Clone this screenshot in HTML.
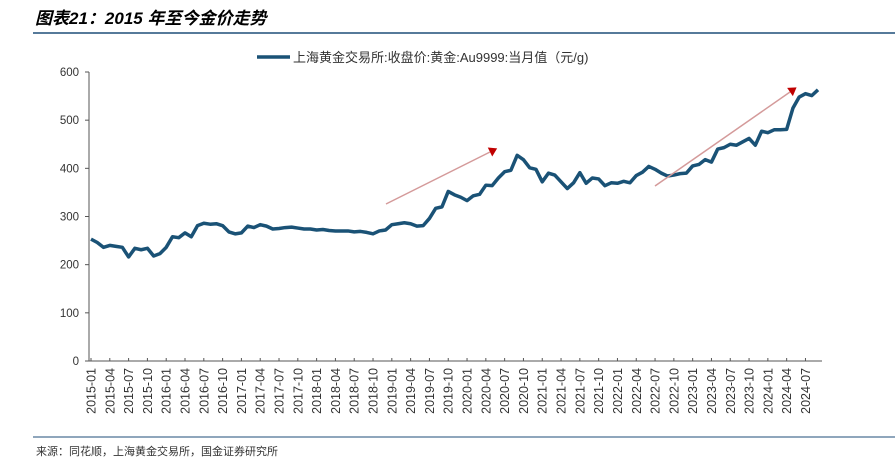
<!DOCTYPE html>
<html><head><meta charset="utf-8"><style>
body{margin:0;width:895px;height:468px;background:#fff;overflow:hidden;font-family:"Liberation Sans","Noto Sans CJK SC",sans-serif}
svg{position:absolute;left:0;top:0}
</style></head><body>
<svg width="895" height="468">
<text x="35" y="24" font-size="17" font-weight="bold" font-style="italic" fill="#000" font-family="Liberation Sans,Noto Sans CJK SC,sans-serif">图表21：2015 年至今金价走势</text>
<line x1="33" y1="33" x2="895" y2="33" stroke="#1f4e79" stroke-width="1.5"/>
<line x1="257" y1="57" x2="290" y2="57" stroke="#1a5276" stroke-width="3.5"/>
<text x="293" y="62" font-size="13" fill="#333">上海黄金交易所:收盘价:黄金:Au9999:当月值（元/g)</text>
<g id="axes"></g>
<g id="plot"></g>
<line x1="33" y1="437" x2="895" y2="437" stroke="#1f4e79" stroke-width="1"/>
<text x="36" y="455" font-size="11" fill="#333">来源：同花顺，上海黄金交易所，国金证券研究所</text>
</svg>
<script>
const values=[253,246,236,240,238,236,216,234,231,234,218,223,
236,258,256,266,258,281,286,284,285,281,268,264,
266,280,277,283,280,274,275,277,278,276,274,274,
272,273,271,270,270,270,268,269,267,264,270,272,
283,285,287,285,280,281,296,317,320,352,345,340,
333,343,346,365,364,380,393,396,427,418,401,398,
372,390,386,372,358,370,391,369,380,378,364,370,
369,373,370,385,392,404,398,390,384,386,389,390,
405,408,418,413,440,443,450,448,455,462,448,477,
474,480,480,481,525,548,555,551,563];
const yTicks=[0,100,200,300,400,500,600];
const startYear=2015;
const NS="http://www.w3.org/2000/svg";
const X0=91,X1=818,Y0=361,Y1=72;
const xs=i=>X0+(X1-X0)*i/(values.length-1);
const ys=v=>Y0-(Y0-Y1)*v/600;
const axes=document.getElementById('axes'),plot=document.getElementById('plot');
function mk(tag,at,parent){const e=document.createElementNS(NS,tag);for(const k in at)e.setAttribute(k,at[k]);parent.appendChild(e);return e;}
let e=mk('line',{x1:89,y1:Y1,x2:89,y2:Y0,stroke:'#555'},axes);


e=mk('line',{x1:89,y1:Y0,x2:822,y2:Y0,stroke:'#555'},axes);


yTicks.forEach(v=>{
 const t=mk('line',{x1:85,y1:ys(v),x2:89,y2:ys(v),stroke:'#555'},axes);
 
 
 const l=mk('text',{x:79,y:ys(v)+4,'font-size':11.5,'text-anchor':'end',fill:'#333'},axes);
 l.textContent=v;
 
 
});
for(let i=0;i<values.length;i+=3){
 const x=xs(i);
 const t=mk('line',{x1:x,y1:Y0,x2:x,y2:Y0-3,stroke:'#555'},axes);
 
 
 const y=startYear+Math.floor(i/12),m=i%12+1;
 const l=mk('text',{x:0,y:0,'font-size':12.5,'text-anchor':'end',fill:'#333',transform:`translate(${x+4.5},${Y0+7}) rotate(-90)`},axes);
 l.textContent=y+'-'+String(m).padStart(2,'0');
 
 
}
const p=mk('polyline',{points:values.map((v,i)=>xs(i)+','+ys(v)).join(' '),fill:'none',stroke:'#1a5276','stroke-width':3.5,'stroke-linejoin':'round'},plot);


[[386,204,490,152],[655,186,790,92]].forEach(a=>{
 const l=mk('line',{x1:a[0],y1:a[1],x2:a[2],y2:a[3],stroke:'#d49a9a','stroke-width':1.5},plot);
 
 
 const ang=Math.atan2(a[3]-a[1],a[2]-a[0]);
 const tip=[a[2]+8*Math.cos(ang),a[3]+8*Math.sin(ang)];
 const b1=[a[2]+5*Math.cos(ang+Math.PI/2),a[3]+5*Math.sin(ang+Math.PI/2)];
 const b2=[a[2]-5*Math.cos(ang+Math.PI/2),a[3]-5*Math.sin(ang+Math.PI/2)];
 const h=mk('polygon',{points:[tip,b1,b2].map(q=>q.join(',')).join(' '),fill:'#c00000'},plot);
 
 
});
</script>
</body></html>
